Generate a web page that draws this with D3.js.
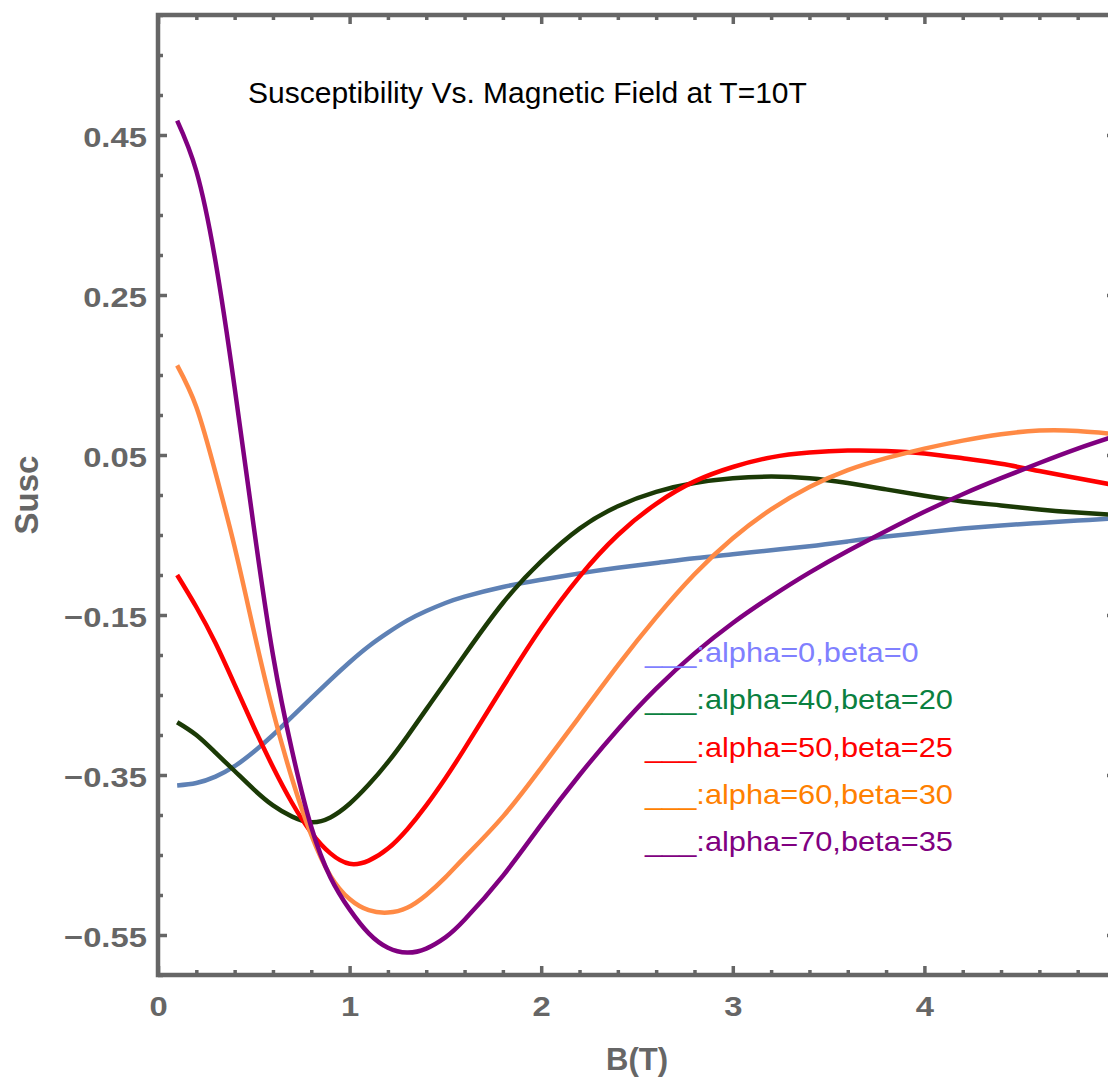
<!DOCTYPE html>
<html>
<head>
<meta charset="utf-8">
<script src="https://cdnjs.cloudflare.com/ajax/libs/d3/7.8.5/d3.min.js"></script>
<style>
	body{ margin:0; background:#ffffff; }
	#Canvas{ display:block; }
</style>
</head>
<body>
<svg id="Canvas" width="1108" height="1080"></svg>
<script>
// field values (T) where the curves were read
var bField = [0.1,0.2,0.3,0.4,0.5,0.6,0.7,0.8,0.9,1.0,1.1,1.2,1.3,1.4,1.5,1.6,1.8,2.0,2.2,2.4,2.6,2.8,3.0,3.2,3.4,3.6,3.8,4.0,4.2,4.4,4.6,4.8,5.0];

var suscA0 = [-0.363,-0.360,-0.352,-0.339,-0.321,-0.300,-0.277,-0.254,-0.231,-0.209,-0.189,-0.172,-0.157,-0.145,-0.135,-0.127,-0.115,-0.106,-0.098,-0.091,-0.085,-0.079,-0.074,-0.069,-0.064,-0.058,-0.052,-0.047,-0.042,-0.038,-0.035,-0.032,-0.029];
var suscA40 = [-0.284,-0.300,-0.322,-0.345,-0.368,-0.388,-0.402,-0.409,-0.403,-0.386,-0.362,-0.334,-0.302,-0.268,-0.234,-0.200,-0.135,-0.083,-0.042,-0.014,0.004,0.015,0.021,0.023,0.021,0.015,0.007,-0.001,-0.008,-0.013,-0.018,-0.022,-0.025];
var suscA50 = [-0.100,-0.140,-0.185,-0.237,-0.290,-0.340,-0.385,-0.422,-0.448,-0.461,-0.457,-0.442,-0.418,-0.388,-0.354,-0.317,-0.240,-0.166,-0.102,-0.050,-0.011,0.017,0.035,0.047,0.053,0.0555,0.055,0.052,0.046,0.039,0.030,0.021,0.012];
var suscA60 = [0.162,0.110,0.028,-0.065,-0.170,-0.270,-0.355,-0.425,-0.476,-0.505,-0.519,-0.522,-0.516,-0.500,-0.478,-0.453,-0.402,-0.341,-0.277,-0.213,-0.153,-0.099,-0.054,-0.018,0.010,0.031,0.046,0.058,0.068,0.076,0.0805,0.080,0.076];
var suscA70 = [0.468,0.405,0.292,0.134,-0.040,-0.200,-0.320,-0.415,-0.478,-0.518,-0.548,-0.566,-0.572,-0.567,-0.553,-0.531,-0.476,-0.412,-0.350,-0.293,-0.242,-0.198,-0.160,-0.127,-0.097,-0.070,-0.045,-0.021,0.001,0.021,0.040,0.058,0.074];

var seriesLabels = [
	"___:alpha=0,beta=0",
	"___:alpha=40,beta=20",
	"___:alpha=50,beta=25",
	"___:alpha=60,beta=30",
	"___:alpha=70,beta=35"
];
var lineColors = [
	"#5e81b5", // blue
	"#1b3a06", // dark green
	"#ff0000", // red
	"#ff8a45", // orange
	"#800080"  // purple
];
var legendColors = ["#8080ff", "#0a8040", "#ff0000", "#ff8000", "#800080"];

var xTicks = [0, 1, 2, 3, 4];
var yTicks = [-0.55, -0.35, -0.15, 0.05, 0.25, 0.45];

var titleText = "Susceptibility Vs. Magnetic Field at T=10T";
var xLabel = "B(T)";
var yLabel = "Susc";

var frameColor = "#666666",
	svg = d3.select("#Canvas"),
	plotLeft = 158, plotRight = 1116, plotTop = 15, plotBottom = 975,
	x = d3.scaleLinear().domain([0, 5]).range([plotLeft, plotRight]),
	y = d3.scaleLinear().domain([-0.6, 0.6]).range([plotBottom, plotTop]);

Init();

function Init(){
	DrawFrame();
	DrawCurves();
	DrawTexts();
	DrawLegend();
}

/*
 * Frame with inward ticks on all four sides
 */
function DrawFrame(){
	var xMinor = d3.range(0, 5.01, 0.2).filter(function(v){ return Math.abs(v - Math.round(v)) > 1e-6; });
	var yMinor = d3.range(-0.6, 0.601, 0.05).filter(function(v){
		return !yTicks.some(function(t){ return Math.abs(t - v) < 1e-6; });
	});
	var fmt = d3.format(".2f");
	var atBottom = "translate(0," + plotBottom + ")",
		atTop = "translate(0," + plotTop + ")",
		atLeft = "translate(" + plotLeft + ",0)",
		atRight = "translate(" + plotRight + ",0)";

	var axes = [
		{ axis: d3.axisBottom(x).tickValues(xTicks).tickSize(-9).tickPadding(21).tickFormat(d3.format("d")), at: atBottom, labels: "0.71em" },
		{ axis: d3.axisBottom(x).tickValues(xMinor).tickSize(-5).tickFormat(""), at: atBottom },
		{ axis: d3.axisTop(x).tickValues(xTicks).tickSize(-9).tickFormat(""), at: atTop },
		{ axis: d3.axisTop(x).tickValues(xMinor).tickSize(-5).tickFormat(""), at: atTop },
		{ axis: d3.axisLeft(y).tickValues(yTicks).tickSize(-9).tickPadding(9.5).tickFormat(fmt), at: atLeft, labels: "0.42em" },
		{ axis: d3.axisLeft(y).tickValues(yMinor).tickSize(-5).tickFormat(""), at: atLeft },
		{ axis: d3.axisRight(y).tickValues(yTicks).tickSize(-9).tickFormat(""), at: atRight },
		{ axis: d3.axisRight(y).tickValues(yMinor).tickSize(-5).tickFormat(""), at: atRight }
	];

	axes.forEach(function(a){
		var g = svg.append("g").attr("transform", a.at).call(a.axis);
		g.select(".domain").remove();
		g.selectAll(".tick line").attr("stroke", frameColor).attr("stroke-width", 3.5);
		if(a.labels){
			g.selectAll(".tick text")
				.attr("fill", frameColor)
				.attr("dy", a.labels)
				.style("font-family", "'Liberation Sans', Arial, sans-serif")
				.style("font-weight", "bold")
				.style("font-size", "28px")
				.attr("transform", "scale(1.17,1)");
		}
		else{
			g.selectAll(".tick text").remove();
		}
	});

	svg.append("rect")
		.attr("x", plotLeft).attr("y", plotTop)
		.attr("width", plotRight - plotLeft).attr("height", plotBottom - plotTop)
		.attr("fill", "none")
		.attr("stroke", frameColor)
		.attr("stroke-width", 4.5);
}

/*
 * Draw the five susceptibility curves
 */
function DrawCurves(){
	var series = [suscA0, suscA40, suscA50, suscA60, suscA70];

	svg.append("clipPath").attr("id", "plotClip")
		.append("rect").attr("x", plotLeft).attr("y", plotTop)
		.attr("width", plotRight - plotLeft).attr("height", plotBottom - plotTop);

	var line = d3.line()
		.x(function(d){ return x(d[0]); })
		.y(function(d){ return y(d[1]); })
		.curve(d3.curveNatural);

	svg.append("g").attr("clip-path", "url(#plotClip)")
		.selectAll("path").data(series).enter()
		.append("path")
		.attr("d", function(s){ return line(bField.map(function(b, i){ return [b, s[i]]; })); })
		.attr("fill", "none")
		.attr("stroke", function(d, i){ return lineColors[i]; })
		.attr("stroke-width", 4.5)
		.attr("stroke-linejoin", "round");
}

function DrawTexts(){
	svg.append("text")
		.attr("x", 248).attr("y", 103)
		.style("font-family", "'Liberation Sans', Arial, sans-serif")
		.style("font-size", "30px")
		.attr("fill", "#000")
		.text(titleText);

	svg.append("text")
		.attr("x", (plotLeft + plotRight) / 2).attr("y", 1070)
		.attr("text-anchor", "middle")
		.style("font-family", "'Liberation Sans', Arial, sans-serif")
		.style("font-weight", "bold")
		.style("font-size", "31px")
		.attr("fill", frameColor)
		.text(xLabel);

	svg.append("text")
		.attr("transform", "translate(38," + ((plotTop + plotBottom) / 2) + ") rotate(-90)")
		.attr("text-anchor", "middle")
		.style("font-family", "'Liberation Sans', Arial, sans-serif")
		.style("font-weight", "bold")
		.style("font-size", "33px")
		.attr("fill", frameColor)
		.text(yLabel);
}

function DrawLegend(){
	var g = svg.append("g").attr("transform", "translate(645,662) scale(1.14,1)");
	g.selectAll("text").data(seriesLabels).enter()
		.append("text")
		.attr("x", 0)
		.attr("y", function(d, i){ return i * 47.3; })
		.style("font-family", "'Liberation Sans', Arial, sans-serif")
		.style("font-size", "27px")
		.attr("fill", function(d, i){ return legendColors[i]; })
		.text(function(d){ return d; });
}
</script>
</body>
</html>
